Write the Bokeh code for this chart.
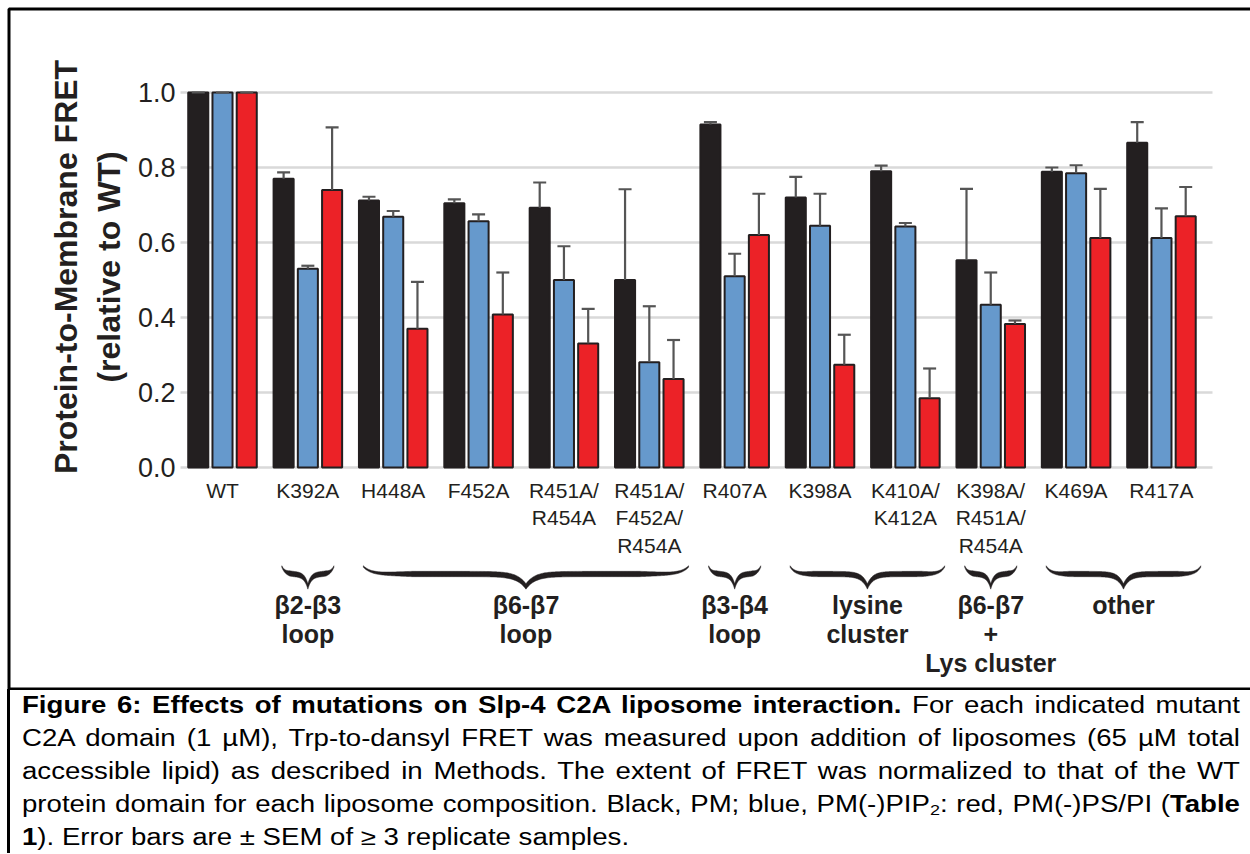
import numpy as np
from bokeh.plotting import figure
from bokeh.models import (Range1d, LinearAxis, FixedTicker, ColumnDataSource, Whisker,
                          TeeHead, BoxAnnotation, Div, NumeralTickFormatter)
from bokeh.layouts import column
from bokeh.core.properties import value
from bokeh.embed import file_html
from bokeh.resources import INLINE

# ---------------- data ----------------
categories = ["WT", "K392A", "H448A", "F452A", "R451A/\nR454A", "R451A/\nF452A/\nR454A",
              "R407A", "K398A", "K410A/\nK412A", "K398A/\nR451A/\nR454A", "K469A", "R417A"]

pm       = [1.00, 0.770, 0.712, 0.705, 0.693, 0.500, 0.915, 0.720, 0.790, 0.553, 0.789, 0.866]
pm_sem   = [0.00, 0.017, 0.010, 0.010, 0.067, 0.242, 0.006, 0.055, 0.015, 0.190, 0.011, 0.055]
pip2     = [1.00, 0.530, 0.669, 0.657, 0.500, 0.281, 0.510, 0.645, 0.643, 0.434, 0.785, 0.612]
pip2_sem = [0.00, 0.008, 0.015, 0.018, 0.090, 0.149, 0.060, 0.085, 0.009, 0.086, 0.021, 0.079]
psp      = [1.00, 0.740, 0.370, 0.408, 0.331, 0.236, 0.620, 0.274, 0.185, 0.383, 0.612, 0.670]
psp_sem  = [0.00, 0.167, 0.125, 0.112, 0.092, 0.104, 0.110, 0.080, 0.079, 0.009, 0.131, 0.078]

series_names = ["PM", "PM(-)PIP2", "PM(-)PS/PI"]
series_colors = ["#231f20", "#6699cc", "#ec2227"]

y_ticks = [0.0, 0.2, 0.4, 0.6, 0.8, 1.0]

# (label, first category index, last category index)
groups = [("β2-β3\nloop", 1, 1), ("β6-β7\nloop", 2, 5), ("β3-β4\nloop", 6, 6),
          ("lysine\ncluster", 7, 8), ("β6-β7\n+\nLys cluster", 9, 9), ("other", 10, 11)]

SUB2 = '<sub style="font-size:15px;line-height:0;vertical-align:-3px">2</sub>'
caption_lines = [
    "<b>Figure 6: Effects of mutations on Slp-4 C2A liposome interaction.</b> For each indicated mutant",
    "C2A domain (1 µM), Trp-to-dansyl FRET was measured upon addition of liposomes (65 µM total",
    "accessible lipid) as described in Methods. The extent of FRET was normalized to that of the WT",
    "protein domain for each liposome composition. Black, PM; blue, PM(-)PIP" + SUB2 + ": red, PM(-)PS/PI (<b>Table</b>",
    "<b>1</b>). Error bars are ± SEM of ≥ 3 replicate samples.",
]

# ---------------- layout constants (pixels) ----------------
W, H = 1250, 690
X0_PX, DX_PX = 222.0, 85.36     # centre of first category, px per category
Y0_PX, DY_PX = 467.0, 375.0     # px of value 0, px per 1.0
FONT = "Liberation Sans"
INK = "#231f20"


def px_x(px):
    return (px - X0_PX) / DX_PX


def px_y(py):
    return (Y0_PX - py) / DY_PX


p = figure(width=W, height=H, x_range=Range1d(px_x(0), px_x(W)),
           y_range=Range1d(px_y(H), px_y(0)), x_axis_type=None, y_axis_type=None,
           toolbar_location=None, output_backend="svg", min_border=0,
           outline_line_color=None, background_fill_color="white",
           border_fill_color="white")
p.min_border_left = p.min_border_right = p.min_border_top = p.min_border_bottom = 0

grid_left, grid_right = px_x(180), px_x(1212)

# gridlines
p.segment(x0=[grid_left] * len(y_ticks), x1=[grid_right] * len(y_ticks), y0=y_ticks, y1=y_ticks,
          line_color="#d9d9d9", line_width=2.5)

# bars + error bars
x = np.arange(len(categories))
offsets = [-0.284, 0.0, 0.284]
for vals, sems, off, col, name in zip([pm, pip2, psp], [pm_sem, pip2_sem, psp_sem], offsets,
                                     series_colors, series_names):
    v = np.array(vals)
    s = np.array(sems)
    src = ColumnDataSource(dict(x=x + off, top=v, upper=v + s,
                                cat=[c.replace("\n", " ") for c in categories],
                                series=[name] * len(v)))
    p.vbar(x="x", top="top", bottom=0, width=0.235, source=src, fill_color=col,
           line_color=INK, line_width=2)
    p.add_layout(Whisker(source=src, base="x", upper="upper", lower="top",
                         line_color="#555555", line_width=2.2, level="annotation",
                         upper_head=TeeHead(size=13, line_color="#555555", line_width=2.2),
                         lower_head=None))

# y axis
yax = LinearAxis(fixed_location=grid_left, ticker=FixedTicker(ticks=y_ticks),
                 formatter=NumeralTickFormatter(format="0.0"), bounds=(0.0, 1.07),
                 axis_line_color=None, major_tick_line_color=None, minor_tick_line_color=None,
                 major_tick_in=0, major_tick_out=0, major_label_standoff=5,
                 major_label_text_font=FONT, major_label_text_font_size="27px",
                 major_label_text_color=INK,
                 axis_label="Protein-to-Membrane FRET\n(relative to WT)",
                 axis_label_text_font=FONT, axis_label_text_font_size="32px",
                 axis_label_text_font_style="bold", axis_label_text_color=INK,
                 axis_label_standoff=8)
p.add_layout(yax, "left")

# x axis (categories)
xax = LinearAxis(fixed_location=0, ticker=FixedTicker(ticks=list(range(len(categories)))),
                 major_label_overrides={i: c for i, c in enumerate(categories)},
                 axis_line_color=None, major_tick_line_color=None, minor_tick_line_color=None,
                 major_tick_in=0, major_tick_out=0, major_label_standoff=11,
                 major_label_text_font=FONT, major_label_text_font_size="21px",
                 major_label_text_color=INK)
p.add_layout(xax, "below")

# group braces + labels
brace_xs, brace_ys, lab_x, lab_y, lab_t = [], [], [], [], []
for label, i0, i1 in groups:
    if i0 == i1:
        xl, xr = i0 - 0.305, i1 + 0.305
    else:
        xl, xr = i0 - 0.35, i1 + 0.46
    xl_px, xr_px = X0_PX + xl * DX_PX, X0_PX + xr * DX_PX
    wid = xr_px - xl_px
    xm = (xl_px + xr_px) / 2
    xs = np.linspace(xl_px, xr_px, 241)
    u = np.minimum(xs - xl_px, xr_px - xs)
    vv = np.abs(xs - xm)
    yt, yf, ytip = 566.0, 573.5, 586.0
    s1 = 2.5 + 0.015 * wid
    s2 = 2.5 + 0.02 * wid
    yc = yf + (yt - yf) * np.exp(-u / s1) + (ytip - yf) * np.exp(-vv / s2)
    th = 1.5 + 3.8 * np.minimum(u / (0.3 * wid / 2), 1.0)
    top_edge = yc - th / 2
    bot_edge = yc + th / 2
    px_xs = np.concatenate([xs, xs[::-1]])
    px_ys = np.concatenate([top_edge, bot_edge[::-1]])
    brace_xs.append(list(px_x(px_xs)))
    brace_ys.append(list(px_y(px_ys)))
    lab_x.append(px_x(xm))
    lab_y.append(px_y(590))
    lab_t.append(label)

p.patches(xs=brace_xs, ys=brace_ys, fill_color=INK, line_color=INK, line_width=0.5)
p.text(x=lab_x, y=lab_y, text=lab_t, text_font=value(FONT), text_font_size="25px",
       text_font_style="bold", text_align="center", text_baseline="top",
       text_line_height=1.04, text_color=INK)

# surrounding box of the figure panel
p.add_layout(BoxAnnotation(left=px_x(8.5), right=px_x(W + 30), top=px_y(8.5),
                           bottom=px_y(688.5), fill_alpha=0, fill_color=None,
                           line_color="black", line_alpha=1.0, line_width=3,
                           level="overlay"))

# caption
line_style = "text-align:justify;text-align-last:justify;"
last_style = "text-align:left;"
body = "".join(
    f'<div style="{line_style if k < len(caption_lines) - 1 else last_style}">{t}</div>'
    for k, t in enumerate(caption_lines))
html = (f'<div style="width:1243px;height:164px;margin:-1px 0 0 7px;border-left:3px solid #000;'
        f'box-sizing:border-box;padding:0 0 0 12px;overflow:hidden;">'
        f'<div style="width:1015px;transform:scaleX(1.2);transform-origin:0 0;'
        f'font-family:\'Liberation Sans\',Arial,sans-serif;font-size:23px;line-height:33px;'
        f'color:#000;">{body}</div></div>')
caption = Div(text=html, width=1250, height=164, margin=0)

layout = column(p, caption, spacing=0)
open("out.html", "w").write(file_html(layout, INLINE))
